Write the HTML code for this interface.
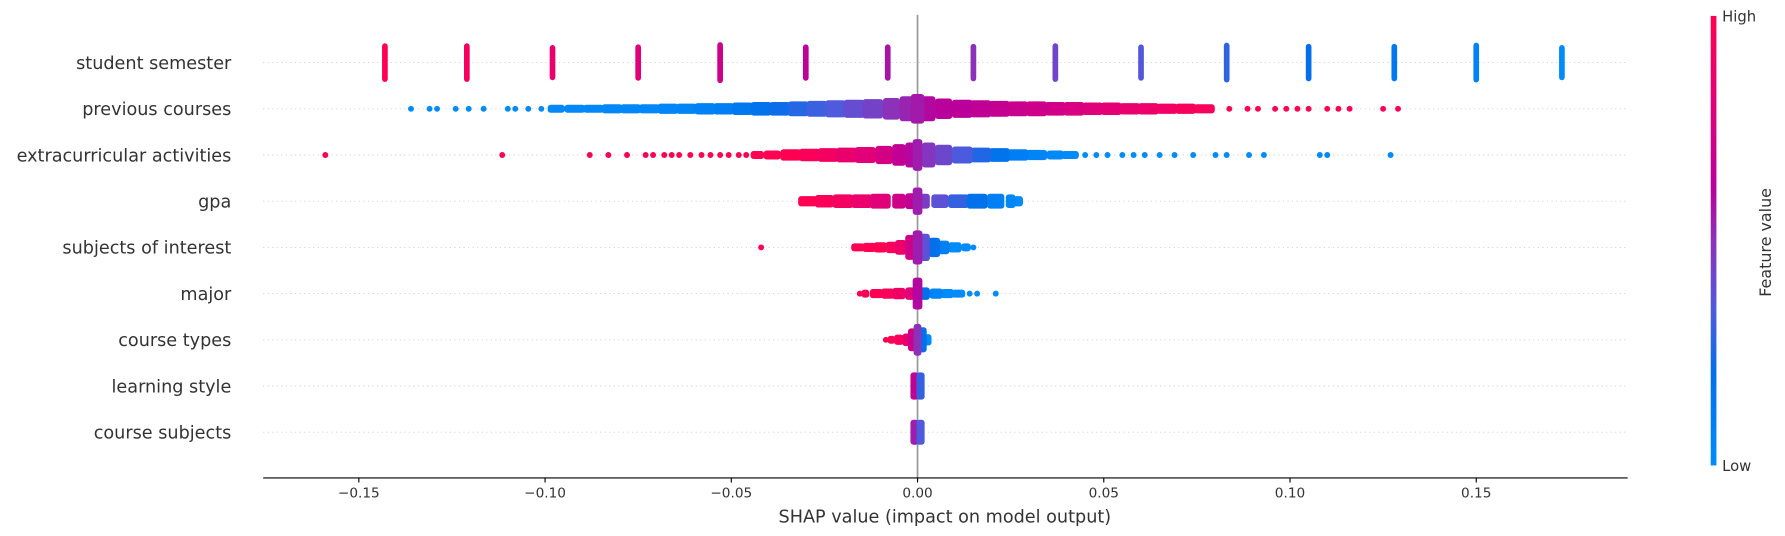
<!DOCTYPE html>
<html><head><meta charset="utf-8"><style>
html,body{margin:0;padding:0;background:#fff;overflow:hidden;}
svg{display:block;font-family:"DejaVu Sans","Liberation Sans",sans-serif;}
</style></head><body>
<svg id="chart" width="1785" height="536" viewBox="0 0 1568 471" xmlns="http://www.w3.org/2000/svg">
<defs>
<linearGradient id="cbar" x1="0" y1="1" x2="0" y2="0">
<stop offset="0" stop-color="rgb(0,139,250)"/>
<stop offset="0.2" stop-color="rgb(0,112,235)"/>
<stop offset="0.35" stop-color="rgb(80,90,220)"/>
<stop offset="0.5" stop-color="rgb(140,50,185)"/>
<stop offset="0.62" stop-color="rgb(185,0,155)"/>
<stop offset="0.8" stop-color="rgb(225,0,120)"/>
<stop offset="1" stop-color="rgb(255,0,82)"/>
</linearGradient>
</defs>
<g id="grid"></g>
<line x1="806" y1="13" x2="806" y2="420" stroke="#999" stroke-width="1.5"/>
<g id="marks"></g>
<g id="axes"></g>
<rect x="1503" y="14" width="5" height="395" fill="url(#cbar)"/>
<text x="1513" y="19" font-size="13" fill="#333">High</text>
<text x="1513" y="414" font-size="13" fill="#333">Low</text>
<text x="1556" y="213" font-size="14" fill="#333" text-anchor="middle" transform="rotate(-90 1556 213)">Feature value</text>
<text x="830" y="459" font-size="15.5" fill="#333" text-anchor="middle">SHAP value (impact on model output)</text>
</svg>
<script>
const features = ["student semester","previous courses","extracurricular activities","gpa","subjects of interest","major","course types","learning style","course subjects"];
const xTicks = [-0.15,-0.10,-0.05,0.00,0.05,0.10,0.15];
const xTickLabels = ["\u22120.15","\u22120.10","\u22120.05","0.00","0.05","0.10","0.15"];
// each row: [shap, pointsStacked, featureValue]
const rowSemester = [[-0.143,30,1],[-0.121,30,0.93],[-0.098,27,0.86],[-0.075,28,0.79],[-0.053,32,0.71],[-0.030,28,0.64],[-0.008,28,0.57],[0.015,29,0.5],[0.037,30,0.43],[0.060,28,0.36],[0.083,31,0.29],[0.105,29,0.21],[0.128,29,0.14],[0.150,31,0.07],[0.173,27,0]];
const rowPrevious = [[-0.136,1,0],[-0.131,1,0],[-0.129,1,0],[-0.124,1,0],[-0.1205,1,0],[-0.1165,1,0],[-0.110,1,0],[-0.108,1,0],[-0.1045,1,0.02],[-0.101,1,0],[-0.097,3,0.02],[-0.092,3,0.02],[-0.087,3,0.02],[-0.082,4,0.02],[-0.077,4,0.03],[-0.072,4,0.03],[-0.067,5,0.04],[-0.062,5,0.05],[-0.057,6,0.07],[-0.052,6,0.1],[-0.047,7,0.13],[-0.042,8,0.18],[-0.037,8,0.22],[-0.032,9,0.27],[-0.027,10,0.31],[-0.022,11,0.35],[-0.017,12,0.4],[-0.012,13,0.44],[-0.007,15,0.5],[-0.003,18,0.53],[0.0,22,0.56],[0.003,18,0.6],[0.007,14,0.62],[0.012,12,0.63],[0.017,11,0.65],[0.022,10,0.67],[0.027,9,0.69],[0.032,9,0.71],[0.037,8,0.73],[0.042,8,0.76],[0.047,7,0.79],[0.052,7,0.82],[0.057,6,0.85],[0.062,6,0.88],[0.067,5,0.91],[0.072,5,0.94],[0.077,4,0.96],[0.0837,1,1],[0.0886,1,1],[0.0914,1,1],[0.096,1,1],[0.099,1,1],[0.102,1,1],[0.105,1,1],[0.110,1,1],[0.113,1,1],[0.116,1,1],[0.125,1,1],[0.129,1,1]];
const rowExtra = [[-0.159,1,1],[-0.1115,1,1],[-0.088,1,1],[-0.083,1,1],[-0.078,1,1],[-0.073,1,1],[-0.071,1,1],[-0.068,1,1],[-0.066,1,1],[-0.064,1,1],[-0.061,1,1],[-0.058,1,1],[-0.0556,1,1],[-0.053,1,1],[-0.0507,1,1],[-0.048,1,1],[-0.046,1,1],[-0.043,3,1],[-0.039,4,1],[-0.034,6,1],[-0.029,7,0.97],[-0.024,8,0.92],[-0.019,9,0.86],[-0.014,10,0.8],[-0.009,12,0.74],[-0.005,15,0.66],[-0.002,18,0.6],[0.0,24,0.55],[0.003,18,0.48],[0.007,14,0.42],[0.012,11,0.34],[0.017,9,0.26],[0.022,8,0.18],[0.027,6,0.1],[0.032,5,0.05],[0.037,4,0.02],[0.041,3,0],[0.045,1,0],[0.048,1,0],[0.051,1,0],[0.055,1,0],[0.058,1,0],[0.061,1,0],[0.065,1,0],[0.069,1,0],[0.074,1,0],[0.080,1,0],[0.083,1,0],[0.089,1,0],[0.093,1,0],[0.108,1,0],[0.110,1,0],[0.127,1,0]];
const rowGpa = [[-0.0295,5,1],[-0.025,7,0.97],[-0.020,8,0.92],[-0.015,8,0.87],[-0.010,9,0.8],[-0.005,9,0.72],[-0.002,10,0.65],[0.0,20,0.55],[0.002,9,0.45],[0.006,8,0.38],[0.011,8,0.3],[0.016,9,0.2],[0.021,9,0.1],[0.025,8,0.04],[0.027,5,0]];
const rowInterest = [[-0.042,1,1],[-0.016,3,1],[-0.013,4,1],[-0.010,5,1],[-0.007,6,0.96],[-0.0045,9,0.88],[-0.002,18,0.72],[0.0,26,0.55],[0.002,20,0.38],[0.0045,13,0.2],[0.007,8,0.08],[0.010,5,0],[0.013,3,0],[0.015,1,0]];
const rowMajor = [[-0.0155,1,1],[-0.014,3,1],[-0.011,4,1],[-0.008,5,0.96],[-0.005,6,0.9],[-0.002,7,0.8],[0.0,24,0.6],[0.002,7,0.2],[0.005,5,0.05],[0.008,4,0],[0.011,3,0],[0.014,1,0],[0.016,1,0],[0.021,1,0]];
const rowTypes = [[-0.0085,1,1],[-0.007,3,1],[-0.005,5,0.95],[-0.003,7,0.85],[-0.0015,16,0.7],[0.0,24,0.5],[0.0015,18,0.2],[0.0028,6,0]];
const rowLearning = [[-0.0008,20,0.65],[0.0008,20,0.3]];
const rowSubjects = [[-0.0008,18,0.55],[0.0008,18,0.35]];
const rows = [rowSemester,rowPrevious,rowExtra,rowGpa,rowInterest,rowMajor,rowTypes,rowLearning,rowSubjects];

const NS="http://www.w3.org/2000/svg";
const X0=806, XS=3273, Y0=55, YS=40.6, AX_L=231, AX_R=1430, AX_Y=420;
const xPos = v => X0 + v*XS;
const yPos = i => Y0 + i*YS;
const stops=[[0,[0,139,250]],[0.2,[0,112,235]],[0.35,[80,90,220]],[0.5,[140,50,185]],[0.62,[185,0,155]],[0.8,[225,0,120]],[1,[255,0,82]]];
function color(f){for(let i=1;i<stops.length;i++){if(f<=stops[i][0]){const a=stops[i-1],b=stops[i],t=(f-a[0])/(b[0]-a[0]);return 'rgb('+a[1].map((c,k)=>Math.round(c+(b[1][k]-c)*t)).join(',')+')';}}return 'rgb(255,0,82)';}
function mk(tag,attrs,parent){const e=document.createElementNS(NS,tag);for(const k in attrs)e.setAttribute(k,attrs[k]);parent.appendChild(e);return e;}
const grid=document.getElementById('grid'), marks=document.getElementById('marks'), axes=document.getElementById('axes');
features.forEach((name,i)=>{
  const y=yPos(i);
  const g=mk('line',{x1:AX_L,y1:y,x2:AX_R,y2:y,stroke:'#ccc','stroke-width':0.8,'stroke-dasharray':'1 3'},grid);
  
  
  const t=mk('text',{x:203,y:y+5.5,'font-size':15.5,fill:'#333','text-anchor':'end'},axes);
  t.textContent=name;
  
  
  const row=rows[i];
  const grp=mk('g',{},marks);
  
  
  const order=row.map((d,k)=>k).sort((a,b)=>row[a][1]-row[b][1]);
  order.forEach(k=>{
    const d=row[k], cx=xPos(d[0]), col=color(d[2]);
    if(d[1]<=1){
      const c=mk('circle',{cx:cx,cy:y,r:2.6,fill:col},grp);
      
      
    } else {
      let w;
      if(i===0){w=5;}
      else{
        const prev=k>0?xPos(row[k-1][0]):cx-17, next=k<row.length-1?xPos(row[k+1][0]):cx+17;
        w=Math.max(5.5,Math.min(cx-prev,next-cx)+2);
      }
      const h=4+d[1];
      const r=mk('rect',{x:cx-w/2,y:y-h/2,width:w,height:h,rx:2.6,ry:2.6,fill:col},grp);
      
      
    }
  });
});
const axl=mk('line',{x1:AX_L,y1:AX_Y,x2:AX_R,y2:AX_Y,stroke:'#000','stroke-width':1},axes);


xTicks.forEach((v,i)=>{
  const x=xPos(v);
  const tk=mk('line',{x1:x,y1:AX_Y,x2:x,y2:AX_Y+4,stroke:'#000','stroke-width':1},axes);
  
  
  const tl=mk('text',{x:x,y:AX_Y+17,'font-size':12,fill:'#333','text-anchor':'middle'},axes);
  tl.textContent=xTickLabels[i];
  
  
});
</script>
</body></html>
